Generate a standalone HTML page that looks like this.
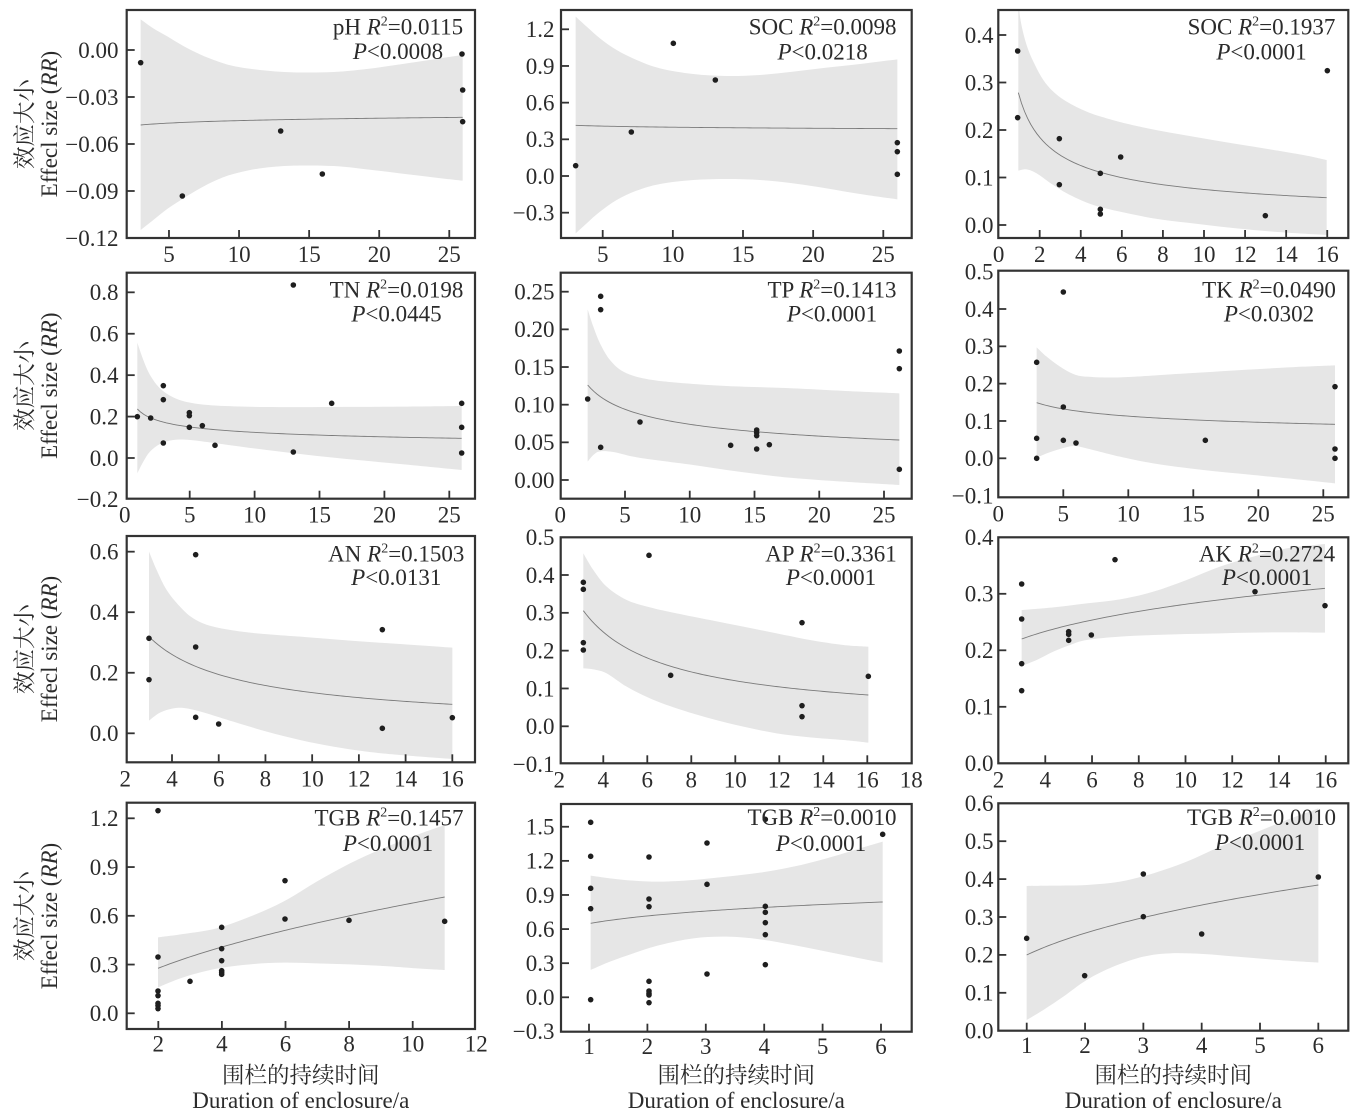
<!DOCTYPE html>
<html>
<head>
<meta charset="utf-8">
<style>
html,body{margin:0;padding:0;background:#fff;}
svg{display:block;}
text{font-family:"Liberation Serif","Noto Serif CJK SC",serif;fill:#2b2b2b;font-size:23px;}
.yl{text-anchor:end;}
.xl{text-anchor:middle;}
.an{text-anchor:middle;}
.it{font-style:italic;}
.sp{font-size:14px;}
.cn{font-size:22.5px;}
</style>
</head>
<body>
<svg id="s" width="1356" height="1113" viewBox="0 0 1356 1113" xmlns="http://www.w3.org/2000/svg">
<rect x="0" y="0" width="1356" height="1113" fill="#fff"/>
<defs id="defs"></defs>
<g id="g"></g>

<!-- Y axis labels -->
<text class="cn" text-anchor="middle" transform="translate(32.5,124) rotate(-90)">效应大小</text>
<text text-anchor="middle" transform="translate(57,124) rotate(-90)">Effecl size (<tspan class="it">RR</tspan>)</text>
<text class="cn" text-anchor="middle" transform="translate(32.5,385.7) rotate(-90)">效应大小</text>
<text text-anchor="middle" transform="translate(57,385.7) rotate(-90)">Effecl size (<tspan class="it">RR</tspan>)</text>
<text class="cn" text-anchor="middle" transform="translate(32.5,649) rotate(-90)">效应大小</text>
<text text-anchor="middle" transform="translate(57,649) rotate(-90)">Effecl size (<tspan class="it">RR</tspan>)</text>
<text class="cn" text-anchor="middle" transform="translate(32.5,916) rotate(-90)">效应大小</text>
<text text-anchor="middle" transform="translate(57,916) rotate(-90)">Effecl size (<tspan class="it">RR</tspan>)</text>

<!-- X axis labels -->
<text class="cn" text-anchor="middle" x="300.8" y="1083">围栏的持续时间</text>
<text text-anchor="middle" x="300.8" y="1108">Duration of enclosure/a</text>
<text class="cn" text-anchor="middle" x="736.3" y="1083">围栏的持续时间</text>
<text text-anchor="middle" x="736.3" y="1108">Duration of enclosure/a</text>
<text class="cn" text-anchor="middle" x="1173.3" y="1083">围栏的持续时间</text>
<text text-anchor="middle" x="1173.3" y="1108">Duration of enclosure/a</text>

<!-- Panel 1 ticks -->
<text class="yl" x="118.5" y="57.8">0.00</text>
<text class="yl" x="118.5" y="104.8">−0.03</text>
<text class="yl" x="118.5" y="151.8">−0.06</text>
<text class="yl" x="118.5" y="198.8">−0.09</text>
<text class="yl" x="118.5" y="245.8">−0.12</text>
<text class="xl" x="169" y="262">5</text>
<text class="xl" x="239.1" y="262">10</text>
<text class="xl" x="309.2" y="262">15</text>
<text class="xl" x="379.2" y="262">20</text>
<text class="xl" x="449.3" y="262">25</text>
<!-- Panel 2 -->
<text class="yl" x="554.5" y="37.1">1.2</text>
<text class="yl" x="554.5" y="73.8">0.9</text>
<text class="yl" x="554.5" y="110.5">0.6</text>
<text class="yl" x="554.5" y="147.1">0.3</text>
<text class="yl" x="554.5" y="183.8">0.0</text>
<text class="yl" x="554.5" y="220.5">−0.3</text>
<text class="xl" x="602.7" y="262">5</text>
<text class="xl" x="672.9" y="262">10</text>
<text class="xl" x="743" y="262">15</text>
<text class="xl" x="813.2" y="262">20</text>
<text class="xl" x="883.3" y="262">25</text>
<!-- Panel 3 -->
<text class="yl" x="993.5" y="42.8">0.4</text>
<text class="yl" x="993.5" y="90.3">0.3</text>
<text class="yl" x="993.5" y="137.8">0.2</text>
<text class="yl" x="993.5" y="185.3">0.1</text>
<text class="yl" x="993.5" y="232.8">0.0</text>
<text class="xl" x="998.6" y="262">0</text>
<text class="xl" x="1039.7" y="262">2</text>
<text class="xl" x="1080.8" y="262">4</text>
<text class="xl" x="1121.8" y="262">6</text>
<text class="xl" x="1162.9" y="262">8</text>
<text class="xl" x="1204" y="262">10</text>
<text class="xl" x="1245.1" y="262">12</text>
<text class="xl" x="1286.2" y="262">14</text>
<text class="xl" x="1327.2" y="262">16</text>
<!-- Panel 4 -->
<text class="yl" x="118.5" y="300.1">0.8</text>
<text class="yl" x="118.5" y="341.5">0.6</text>
<text class="yl" x="118.5" y="383">0.4</text>
<text class="yl" x="118.5" y="424.4">0.2</text>
<text class="yl" x="118.5" y="465.8">0.0</text>
<text class="yl" x="118.5" y="507.2">−0.2</text>
<text class="xl" x="124.8" y="522.7">0</text>
<text class="xl" x="189.7" y="522.7">5</text>
<text class="xl" x="254.6" y="522.7">10</text>
<text class="xl" x="319.5" y="522.7">15</text>
<text class="xl" x="384.4" y="522.7">20</text>
<text class="xl" x="449.3" y="522.7">25</text>
<!-- Panel 5 -->
<text class="yl" x="554.5" y="299.5">0.25</text>
<text class="yl" x="554.5" y="337.2">0.20</text>
<text class="yl" x="554.5" y="374.8">0.15</text>
<text class="yl" x="554.5" y="412.5">0.10</text>
<text class="yl" x="554.5" y="450.1">0.05</text>
<text class="yl" x="554.5" y="487.8">0.00</text>
<text class="xl" x="560.3" y="522.7">0</text>
<text class="xl" x="625" y="522.7">5</text>
<text class="xl" x="689.8" y="522.7">10</text>
<text class="xl" x="754.5" y="522.7">15</text>
<text class="xl" x="819.3" y="522.7">20</text>
<text class="xl" x="884" y="522.7">25</text>
<!-- Panel 6 -->
<text class="yl" x="993.5" y="279.5">0.5</text>
<text class="yl" x="993.5" y="316.8">0.4</text>
<text class="yl" x="993.5" y="354.1">0.3</text>
<text class="yl" x="993.5" y="391.4">0.2</text>
<text class="yl" x="993.5" y="428.8">0.1</text>
<text class="yl" x="993.5" y="466.1">0.0</text>
<text class="yl" x="993.5" y="503.4">−0.1</text>
<text class="xl" x="998.3" y="521.3">0</text>
<text class="xl" x="1063.3" y="521.3">5</text>
<text class="xl" x="1128.3" y="521.3">10</text>
<text class="xl" x="1193.3" y="521.3">15</text>
<text class="xl" x="1258.3" y="521.3">20</text>
<text class="xl" x="1323.3" y="521.3">25</text>
<!-- Panel 7 -->
<text class="yl" x="118.5" y="559.5">0.6</text>
<text class="yl" x="118.5" y="620">0.4</text>
<text class="yl" x="118.5" y="680.6">0.2</text>
<text class="yl" x="118.5" y="741.1">0.0</text>
<text class="xl" x="125.3" y="786.3">2</text>
<text class="xl" x="172" y="786.3">4</text>
<text class="xl" x="218.7" y="786.3">6</text>
<text class="xl" x="265.4" y="786.3">8</text>
<text class="xl" x="312.2" y="786.3">10</text>
<text class="xl" x="358.9" y="786.3">12</text>
<text class="xl" x="405.6" y="786.3">14</text>
<text class="xl" x="452.3" y="786.3">16</text>
<!-- Panel 8 -->
<text class="yl" x="554.5" y="545">0.5</text>
<text class="yl" x="554.5" y="582.8">0.4</text>
<text class="yl" x="554.5" y="620.6">0.3</text>
<text class="yl" x="554.5" y="658.4">0.2</text>
<text class="yl" x="554.5" y="696.3">0.1</text>
<text class="yl" x="554.5" y="734.1">0.0</text>
<text class="yl" x="554.5" y="771.9">−0.1</text>
<text class="xl" x="559.3" y="787.3">2</text>
<text class="xl" x="603.3" y="787.3">4</text>
<text class="xl" x="647.3" y="787.3">6</text>
<text class="xl" x="691.3" y="787.3">8</text>
<text class="xl" x="735.3" y="787.3">10</text>
<text class="xl" x="779.3" y="787.3">12</text>
<text class="xl" x="823.3" y="787.3">14</text>
<text class="xl" x="867.3" y="787.3">16</text>
<text class="xl" x="911.3" y="787.3">18</text>
<!-- Panel 9 -->
<text class="yl" x="993.5" y="545.1">0.4</text>
<text class="yl" x="993.5" y="601.6">0.3</text>
<text class="yl" x="993.5" y="658.1">0.2</text>
<text class="yl" x="993.5" y="714.6">0.1</text>
<text class="yl" x="993.5" y="771.1">0.0</text>
<text class="xl" x="998.5" y="787.3">2</text>
<text class="xl" x="1045.3" y="787.3">4</text>
<text class="xl" x="1092" y="787.3">6</text>
<text class="xl" x="1138.8" y="787.3">8</text>
<text class="xl" x="1185.5" y="787.3">10</text>
<text class="xl" x="1232.3" y="787.3">12</text>
<text class="xl" x="1279" y="787.3">14</text>
<text class="xl" x="1325.7" y="787.3">16</text>
<!-- Panel 10 -->
<text class="yl" x="118.5" y="826.1">1.2</text>
<text class="yl" x="118.5" y="874.9">0.9</text>
<text class="yl" x="118.5" y="923.6">0.6</text>
<text class="yl" x="118.5" y="972.4">0.3</text>
<text class="yl" x="118.5" y="1021.1">0.0</text>
<text class="xl" x="158.3" y="1051.5">2</text>
<text class="xl" x="221.9" y="1051.5">4</text>
<text class="xl" x="285.5" y="1051.5">6</text>
<text class="xl" x="349.1" y="1051.5">8</text>
<text class="xl" x="412.7" y="1051.5">10</text>
<text class="xl" x="476.3" y="1051.5">12</text>
<!-- Panel 11 -->
<text class="yl" x="554.5" y="834.5">1.5</text>
<text class="yl" x="554.5" y="868.7">1.2</text>
<text class="yl" x="554.5" y="902.8">0.9</text>
<text class="yl" x="554.5" y="936.9">0.6</text>
<text class="yl" x="554.5" y="971">0.3</text>
<text class="yl" x="554.5" y="1005.1">0.0</text>
<text class="yl" x="554.5" y="1039.2">−0.3</text>
<text class="xl" x="589" y="1054">1</text>
<text class="xl" x="647.4" y="1054">2</text>
<text class="xl" x="705.8" y="1054">3</text>
<text class="xl" x="764.2" y="1054">4</text>
<text class="xl" x="822.6" y="1054">5</text>
<text class="xl" x="881" y="1054">6</text>
<!-- Panel 12 -->
<text class="yl" x="993.5" y="811.1">0.6</text>
<text class="yl" x="993.5" y="849">0.5</text>
<text class="yl" x="993.5" y="886.9">0.4</text>
<text class="yl" x="993.5" y="924.8">0.3</text>
<text class="yl" x="993.5" y="962.7">0.2</text>
<text class="yl" x="993.5" y="1000.6">0.1</text>
<text class="yl" x="993.5" y="1038.5">0.0</text>
<text class="xl" x="1026.7" y="1053">1</text>
<text class="xl" x="1085" y="1053">2</text>
<text class="xl" x="1143.3" y="1053">3</text>
<text class="xl" x="1201.6" y="1053">4</text>
<text class="xl" x="1260" y="1053">5</text>
<text class="xl" x="1318.3" y="1053">6</text>

<!-- Annotations -->
<text class="an" x="398" y="34.5">pH <tspan class="it">R</tspan><tspan class="sp" dy="-9">2</tspan><tspan dy="9">=0.0115</tspan></text>
<text class="an" x="398" y="59"><tspan class="it">P</tspan>&lt;0.0008</text>
<text class="an" x="822.6" y="34.3">SOC <tspan class="it">R</tspan><tspan class="sp" dy="-9">2</tspan><tspan dy="9">=0.0098</tspan></text>
<text class="an" x="822.6" y="59.3"><tspan class="it">P</tspan>&lt;0.0218</text>
<text class="an" x="1261.5" y="34.3">SOC <tspan class="it">R</tspan><tspan class="sp" dy="-9">2</tspan><tspan dy="9">=0.1937</tspan></text>
<text class="an" x="1261.5" y="59.3"><tspan class="it">P</tspan>&lt;0.0001</text>

<text class="an" x="396.5" y="297.3">TN <tspan class="it">R</tspan><tspan class="sp" dy="-9">2</tspan><tspan dy="9">=0.0198</tspan></text>
<text class="an" x="396.5" y="321.7"><tspan class="it">P</tspan>&lt;0.0445</text>
<text class="an" x="832" y="297.3">TP <tspan class="it">R</tspan><tspan class="sp" dy="-9">2</tspan><tspan dy="9">=0.1413</tspan></text>
<text class="an" x="832" y="321.7"><tspan class="it">P</tspan>&lt;0.0001</text>
<text class="an" x="1269" y="297.3">TK <tspan class="it">R</tspan><tspan class="sp" dy="-9">2</tspan><tspan dy="9">=0.0490</tspan></text>
<text class="an" x="1269" y="321.7"><tspan class="it">P</tspan>&lt;0.0302</text>

<text class="an" x="396.3" y="561.7">AN <tspan class="it">R</tspan><tspan class="sp" dy="-9">2</tspan><tspan dy="9">=0.1503</tspan></text>
<text class="an" x="396.3" y="585"><tspan class="it">P</tspan>&lt;0.0131</text>
<text class="an" x="831" y="561.7">AP <tspan class="it">R</tspan><tspan class="sp" dy="-9">2</tspan><tspan dy="9">=0.3361</tspan></text>
<text class="an" x="831" y="585"><tspan class="it">P</tspan>&lt;0.0001</text>
<text class="an" x="1267" y="561.7">AK <tspan class="it">R</tspan><tspan class="sp" dy="-9">2</tspan><tspan dy="9">=0.2724</tspan></text>
<text class="an" x="1267" y="585"><tspan class="it">P</tspan>&lt;0.0001</text>

<text class="an" x="389" y="825.7">TGB <tspan class="it">R</tspan><tspan class="sp" dy="-9">2</tspan><tspan dy="9">=0.1457</tspan></text>
<text class="an" x="388" y="851"><tspan class="it">P</tspan>&lt;0.0001</text>
<text class="an" x="822" y="825">TGB <tspan class="it">R</tspan><tspan class="sp" dy="-9">2</tspan><tspan dy="9">=0.0010</tspan></text>
<text class="an" x="821" y="851"><tspan class="it">P</tspan>&lt;0.0001</text>
<text class="an" x="1261.5" y="825">TGB <tspan class="it">R</tspan><tspan class="sp" dy="-9">2</tspan><tspan dy="9">=0.0010</tspan></text>
<text class="an" x="1260" y="850"><tspan class="it">P</tspan>&lt;0.0001</text>
</svg>

<script>
(function(){
var D=[
{ox:0,oy:0,box:[126.7,10,475,238],x0:98.9,sx:14.015,y0:50,sy:1566.7,
 xt:[5,10,15,20,25],yt:[0,-0.03,-0.06,-0.09,-0.12],
 ln:[[422,375],[1388,352]],
 up:[[422,58],[460,85],[500,108],[550,138],[600,163],[650,183],[700,198],[780,210],[880,217],[1000,216],[1100,207],[1200,193],[1300,178],[1388,165]],
 lo:[[422,690],[460,660],[500,628],[550,595],[600,565],[650,540],[700,522],[780,505],[880,497],[1000,498],[1100,508],[1200,520],[1300,532],[1388,542]],
 pts:[[422,188],[547,588],[842,393],[967,522],[1386,162],[1388,270],[1388,365]]},
{ox:460,oy:0,box:[561,10,911.7,238],x0:532.55,sx:14.03,y0:176,sy:122.25,
 xt:[5,10,15,20,25],yt:[1.2,0.9,0.6,0.3,0,-0.3],
 ln:[[347,376],[1312,386]],
 up:[[347,50],[380,80],[420,115],[470,150],[530,180],[600,205],[700,222],[800,228],[900,225],[1000,215],[1100,203],[1200,192],[1312,178]],
 lo:[[347,700],[380,670],[420,635],[470,600],[530,572],[600,552],[700,540],[800,537],[900,540],[1000,550],[1100,565],[1200,582],[1312,598]],
 pts:[[347,497],[514,396],[640,130],[766,240],[1312,428],[1312,455],[1312,523]]},
{ox:920,oy:0,box:[998.3,10,1348.3,238],x0:998.6,sx:20.54,y0:225,sy:475,
 xt:[0,2,4,6,8,10,12,14,16],yt:[0.4,0.3,0.2,0.1,0],
 ln:[[295,278],[1220,593]],
 up:[[295,0],[300,50],[310,100],[325,150],[345,195],[370,240],[400,275],[440,305],[500,335],[560,355],[650,378],[750,398],[850,415],[950,432],[1050,448],[1150,465],[1220,480]],
 lo:[[295,512],[320,508],[350,520],[400,555],[450,585],[520,615],[600,635],[700,655],[800,668],[900,680],[1000,690],[1100,698],[1220,705]],
 pts:[[293,153],[293,353],[418,416],[418,554],[541,520],[541,628],[541,642],[602,471],[1036,647],[1222,212]]},
{ox:0,oy:260,box:[126.7,272.7,475,498.7],x0:124.8,sx:12.98,y0:458,sy:207.1,
 xt:[0,5,10,15,20,25],yt:[0.8,0.6,0.4,0.2,0,-0.2],
 ln:[[412,447],[1385,535]],
 up:[[412,248],[430,300],[450,345],[480,385],[520,412],[570,428],[650,437],[800,441],[1000,441],[1200,440],[1385,438]],
 lo:[[412,640],[430,605],[450,575],[480,552],[520,540],[570,540],[650,550],[800,570],[1000,593],[1200,612],[1385,630]],
 pts:[[412,470],[452,474],[490,377],[490,419],[490,549],[568,458],[568,467],[568,502],[607,497],[645,556],[880,75],[880,576],[995,430],[1385,430],[1385,502],[1385,579]]},
{ox:460,oy:260,box:[560.7,272.7,911.7,498.7],x0:560.25,sx:12.95,y0:480,sy:753.2,
 xt:[0,5,10,15,20,25],yt:[0.25,0.2,0.15,0.1,0.05,0],
 ln:[[383,375],[1318,540]],
 up:[[383,148],[400,200],[420,250],[450,300],[490,335],[550,355],[650,368],[800,378],[1000,385],[1200,395],[1318,400]],
 lo:[[383,605],[400,585],[420,574],[460,576],[520,590],[600,602],[700,615],[800,630],[900,643],[1000,654],[1150,665],[1318,675]],
 pts:[[383,417],[422,109],[422,149],[422,562],[540,486],[812,556],[890,510],[890,518],[890,527],[890,567],[928,554],[1318,273],[1318,326],[1318,628]]},
{ox:920,oy:260,box:[998.3,270.7,1348.3,497.3],x0:998.3,sx:13.0,y0:458.3,sy:373.25,
 xt:[0,5,10,15,20,25],yt:[0.5,0.4,0.3,0.2,0.1,0,-0.1],
 ln:[[350,428],[1245,493]],
 up:[[350,262],[380,290],[420,320],[460,342],[500,350],[600,352],[800,340],[1000,328],[1150,320],[1245,316]],
 lo:[[350,593],[380,580],[420,567],[460,558],[500,565],[600,590],[700,610],[850,630],[1000,645],[1150,660],[1245,670]],
 pts:[[350,307],[350,535],[350,595],[430,96],[430,441],[430,541],[468,549],[856,541],[1245,380],[1245,567],[1245,595]]},
{ox:0,oy:520,box:[126.7,536,475,762.3],x0:78.56,sx:23.36,y0:733.3,sy:302.7,
 xt:[2,4,6,8,10,12,14,16],yt:[0.6,0.4,0.2,0],
 ln:[[447,350],[1357,553]],
 up:[[447,95],[470,150],[500,210],[540,260],[580,295],[640,320],[750,338],[900,350],[1050,362],[1200,372],[1357,383]],
 lo:[[447,602],[480,578],[520,565],[560,565],[620,580],[700,605],[800,635],[900,660],[1000,680],[1100,695],[1200,705],[1357,717]],
 pts:[[447,355],[447,479],[587,104],[587,381],[587,592],[656,612],[1147,329],[1147,625],[1357,593]]},
{ox:460,oy:520,box:[560.7,537.3,911.7,763.3],x0:515.3,sx:22.0,y0:726.3,sy:378.25,
 xt:[2,4,6,8,10,12,14,16,18],yt:[0.5,0.4,0.3,0.2,0.1,0,-0.1],
 ln:[[370,272],[1225,525]],
 up:[[370,100],[400,150],[440,200],[500,240],[570,262],[650,280],[750,300],[850,320],[950,340],[1050,360],[1150,375],[1225,380]],
 lo:[[370,445],[400,448],[440,460],[500,500],[570,535],[650,565],[750,595],[850,620],[950,640],[1050,652],[1150,660],[1225,668]],
 pts:[[370,187],[370,208],[370,368],[370,390],[567,106],[632,466],[1026,308],[1026,557],[1026,590],[1225,469]]},
{ox:920,oy:520,box:[998.3,537.3,1348.3,763.3],x0:951.8,sx:23.37,y0:763.3,sy:565,
 xt:[2,4,6,8,10,12,14,16],yt:[0.4,0.3,0.2,0.1,0],
 ln:[[305,357],[1215,205]],
 up:[[305,270],[400,262],[500,250],[600,238],[700,215],[800,180],[900,140],[1000,110],[1100,85],[1215,72]],
 lo:[[305,438],[350,420],[400,395],[450,375],[500,360],[600,350],[700,345],[800,342],[900,340],[1000,338],[1100,337],[1215,338]],
 pts:[[305,192],[305,297],[305,431],[305,512],[446,335],[446,343],[446,361],[514,345],[585,119],[1005,215],[1215,257]]},
{ox:0,oy:780,box:[126.7,802.7,475,1029],x0:94.7,sx:31.8,y0:1013.3,sy:162.5,
 xt:[2,4,6,8,10,12],yt:[1.2,0.9,0.6,0.3,0],
 ln:[[474,565],[1334,351]],
 up:[[474,472],[550,462],[650,445],[750,410],[850,365],[950,305],[1050,250],[1150,205],[1250,165],[1334,135]],
 lo:[[474,622],[550,592],[650,566],[750,553],[850,548],[950,550],[1050,553],[1150,558],[1250,565],[1334,570]],
 pts:[[474,92],[474,531],[474,633],[474,647],[474,670],[474,677],[474,686],[570,604],[665,442],[665,506],[665,542],[665,572],[665,577],[665,583],[855,302],[855,417],[1047,421],[1334,424]]},
{ox:460,oy:780,box:[561,804,911.7,1031.7],x0:530.6,sx:58.4,y0:997.3,sy:113.7,
 xt:[1,2,3,4,5,6],yt:[1.5,1.2,0.9,0.6,0.3,0,-0.3],
 ln:[[392,430],[1268,366]],
 up:[[392,287],[450,295],[520,302],[600,305],[700,300],[800,290],[900,278],[1000,260],[1100,235],[1200,205],[1268,185]],
 lo:[[392,570],[450,545],[520,520],[600,495],[700,475],[800,470],[900,478],[1000,495],[1100,515],[1200,535],[1268,548]],
 pts:[[392,127],[392,229],[392,325],[392,386],[392,659],[567,231],[567,357],[567,380],[567,604],[567,633],[567,640],[567,645],[567,668],[741,189],[741,313],[741,582],[916,379],[916,397],[916,428],[916,464],[916,554],[916,118],[1268,163]]},
{ox:920,oy:780,box:[998.3,803.3,1348.3,1030.7],x0:968.4,sx:58.32,y0:1030.7,sy:379,
 xt:[1,2,3,4,5,6],yt:[0.6,0.5,0.4,0.3,0.2,0.1,0],
 ln:[[320,525],[1195,315]],
 up:[[320,318],[400,317],[500,315],[600,305],[700,280],[800,245],[900,200],[1000,160],[1100,120],[1195,85]],
 lo:[[320,720],[370,690],[430,650],[500,600],[580,560],[670,530],[750,520],[850,522],[950,530],[1050,538],[1150,545],[1195,548]],
 pts:[[320,475],[494,587],[670,282],[670,410],[845,462],[1195,291]]}
];
var NS="http://www.w3.org/2000/svg";
var g=document.getElementById('g'), defs=document.getElementById('defs');
function mk(t,a,par){var e=document.createElementNS(NS,t);for(var k in a)e.setAttribute(k,a[k]);(par||g).appendChild(e);return e;}
function f(n){return n.toFixed(2);}
function cr(p,start){
  var d=(start?'M':'L')+f(p[0][0])+','+f(p[0][1]);
  for(var i=0;i<p.length-1;i++){
    var p0=p[i-1]||p[i],p1=p[i],p2=p[i+1],p3=p[i+2]||p2;
    var c1x=p1[0]+(p2[0]-p0[0])/6,c1y=p1[1]+(p2[1]-p0[1])/6;
    var c2x=p2[0]-(p3[0]-p1[0])/6,c2y=p2[1]-(p3[1]-p1[1])/6;
    d+='C'+f(c1x)+','+f(c1y)+' '+f(c2x)+','+f(c2y)+' '+f(p2[0])+','+f(p2[1]);
  }
  return d;
}
D.forEach(function(p,i){
  var L=p.box[0],T=p.box[1],R=p.box[2],B=p.box[3];
  var tr=function(q){return [p.ox+q[0]/3,p.oy+q[1]/3];};
  var cp=mk('clipPath',{id:'c'+i},defs);
  mk('rect',{x:L,y:T,width:R-L,height:B-T},cp);
  var up=p.up.map(tr), lo=p.lo.map(tr).reverse();
  mk('path',{d:cr(up,true)+cr(lo,false)+'Z',fill:'#e6e6e6','clip-path':'url(#c'+i+')'});
  var a=tr(p.ln[0]), b=tr(p.ln[1]);
  var v1=(a[0]-p.x0)/p.sx, v2=(b[0]-p.x0)/p.sx;
  var y1=(p.y0-a[1])/p.sy, y2=(p.y0-b[1])/p.sy;
  var e=Math.log(y2/y1)/Math.log(v2/v1), c=y1/Math.pow(v1,e);
  var s='';
  for(var k=0;k<=100;k++){var v=v1+(v2-v1)*k/100;var val=c*Math.pow(v,e);
    s+=f(p.x0+p.sx*v)+','+f(p.y0-p.sy*val)+' ';}
  mk('polyline',{points:s,fill:'none',stroke:'#7a7a7a','stroke-width':0.9,'clip-path':'url(#c'+i+')'});
  p.pts.forEach(function(q){var z=tr(q);mk('circle',{cx:f(z[0]),cy:f(z[1]),r:2.8,fill:'#1e1e1e'});});
  mk('rect',{x:L,y:T,width:R-L,height:B-T,fill:'none',stroke:'#333','stroke-width':2.2});
  p.xt.forEach(function(v){var x=p.x0+p.sx*v;if(x<L+2||x>R-2)return;
    mk('line',{x1:f(x),y1:B,x2:f(x),y2:B-8,stroke:'#333','stroke-width':1.8});});
  p.yt.forEach(function(v){var y=p.y0-p.sy*v;if(y<T+2||y>B-2)return;
    mk('line',{x1:L,y1:f(y),x2:L+8,y2:f(y),stroke:'#333','stroke-width':1.8});});
});
})();
</script>
</body>
</html>
